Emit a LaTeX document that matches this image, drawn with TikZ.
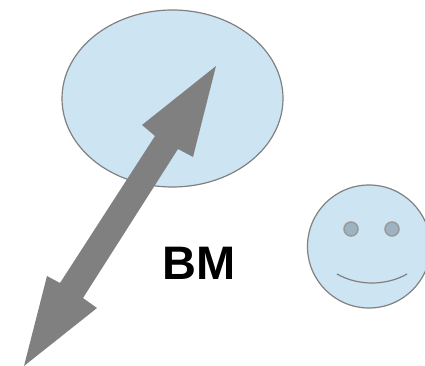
\documentclass[tikz,border=0pt]{standalone}
\usepackage{fontspec}
\setmainfont{Liberation Sans}
\definecolor{paleblue}{HTML}{CDE4F3}
\definecolor{edgegrey}{HTML}{808080}
\definecolor{eyegrey}{HTML}{9DB3C1}
\tikzset{
  bluefill/.style={fill=paleblue,draw=edgegrey,line width=1.2pt},
  eye/.style={fill=eyegrey,draw=edgegrey!80,line width=1.5pt},
  bigarrow/.style={fill=edgegrey,draw=none},
  label/.style={font=\fontsize{47}{47}\selectfont\bfseries,inner sep=0pt,text=black}
}
\begin{document}
\begin{tikzpicture}[x=1pt,y=-1pt]
\useasboundingbox (0,0) rectangle (425,366);
\clip (0,0) rectangle (425,366);
\draw[bluefill] (172.5,98.5) ellipse [x radius=110.5,y radius=88.5];
\draw[bluefill] (369,246.5) circle [radius=61.5];
\draw[eye] (351,229) circle [radius=7];
\draw[eye] (392,229) circle [radius=7];
\draw[edgegrey,line width=1.2pt] (337,274) .. controls (358,286) and (386,286) .. (407,274);
\fill[bigarrow] (216,66) -- (142,125) -- (155,136) -- (60,283) -- (47,276) -- (24,366)
  -- (97,308) -- (83,298) -- (178,149) -- (193,157) -- cycle;
\node[label,anchor=center] (bm) at (199.3,263.5) {BM};
\end{tikzpicture}
\end{document}
